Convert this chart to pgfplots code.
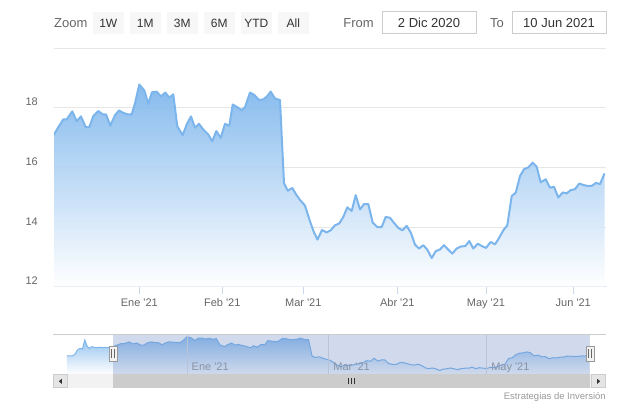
\documentclass[border=0pt]{standalone}
\usepackage{pgfplots}
\pgfplotsset{compat=1.18}
\usepackage{pgfplotstable}
\usepackage{fontspec}
\setmainfont{Liberation Sans}[Ligatures=TeXOff]

\definecolor{hcblue}{RGB}{124,181,236}
\definecolor{gridc}{HTML}{E6E6E6}
\definecolor{axisc}{HTML}{CCD6EB}
\definecolor{lab}{HTML}{666666}
\definecolor{txt}{HTML}{333333}
\definecolor{soft}{HTML}{999999}
\definecolor{maskc}{RGB}{102,133,194}
\definecolor{btn}{HTML}{F7F7F7}

% x = trading-day position (pixels of the 617 px chart), y = price
% points before x=54 only show up in the navigator
\pgfplotstableread{
x y
0.2 15.46
6.7 15.46
9.5 15.75
12.5 16.49
15.6 16.78
18.3 16.66
21.0 18.21
23.4 17.23
26.0 16.78
29.1 17.06
33.8 16.89
38.8 16.96
43.4 16.89
48.4 16.89
54.0 17.10
58.3 17.35
63.3 17.61
66.7 17.61
72.3 17.88
76.7 17.55
81.0 17.71
85.7 17.35
89.3 17.35
93.3 17.72
98.3 17.89
102.7 17.78
106.0 17.78
110.3 17.40
115.0 17.75
119.0 17.91
123.3 17.83
127.3 17.78
131.7 17.78
135.0 18.15
139.3 18.78
144.3 18.58
148.3 18.13
152.0 18.52
156.7 18.54
161.0 18.38
165.3 18.51
169.3 18.34
173.3 18.45
177.3 17.38
182.7 17.08
186.7 17.44
191.0 17.71
195.0 17.33
199.0 17.46
203.3 17.27
208.3 17.10
212.3 16.88
216.3 17.22
220.7 16.99
225.0 17.46
229.3 17.40
232.7 18.11
237.3 18.02
241.7 17.92
245.0 18.02
250.0 18.51
254.3 18.43
259.0 18.26
263.3 18.28
267.3 18.39
270.7 18.54
275.0 18.31
280.0 18.26
284.0 15.47
287.7 15.22
292.3 15.31
296.0 15.10
300.0 14.91
305.0 14.72
310.0 14.19
314.0 13.82
317.5 13.58
322.0 13.90
326.7 13.82
330.7 13.89
335.0 14.06
339.3 14.12
343.3 14.34
347.3 14.66
351.7 14.54
355.7 15.07
360.0 14.59
364.0 14.77
368.3 14.77
372.7 14.15
377.3 14.00
381.7 14.00
385.7 14.34
390.0 14.31
394.0 14.14
398.3 13.97
402.3 13.89
406.7 14.04
411.0 13.80
415.0 13.41
419.0 13.28
423.3 13.39
427.3 13.24
431.7 12.96
435.7 13.19
440.0 13.25
444.0 13.39
448.3 13.24
452.3 13.11
456.7 13.28
461.0 13.35
465.3 13.36
469.3 13.53
473.3 13.28
477.7 13.44
482.0 13.36
486.0 13.30
490.7 13.50
495.0 13.42
499.0 13.63
503.3 13.89
507.3 14.06
511.7 15.04
515.7 15.15
520.0 15.71
524.0 15.94
528.3 16.00
532.7 16.16
536.7 16.02
540.7 15.50
545.7 15.60
550.0 15.32
554.0 15.35
558.3 14.99
562.7 15.16
566.7 15.13
570.7 15.24
575.0 15.27
579.3 15.46
583.3 15.41
587.3 15.38
591.7 15.38
596.0 15.48
600.0 15.44
604.5 15.80
}\prices

\newcommand\fsz[1]{\fontsize{#1bp}{#1bp}\selectfont}

\begin{document}
\begin{tikzpicture}
\useasboundingbox (0,0) rectangle (617bp,410bp);

% ---- range selector bar ----
\begin{scope}[x=1bp,y=1bp]
  \node[anchor=mid west, inner sep=0pt, text=lab, font=\fsz{13}] at (54,385) {Zoom};
  \foreach \lx/\lt in {92.5/1W,129.5/1M,166.5/3M,203.5/6M,240.5/YTD,277.5/All}{
    \fill[btn] (\lx,376) rectangle ++(31.5,22);
    \node[inner sep=0pt, anchor=mid, text=txt, font=\fsz{12}] at (\lx+15.75,385) {\lt};
  }
  \node[anchor=mid east, inner sep=0pt, text=lab, font=\fsz{13}] at (374,385) {From};
  \draw[draw=black!20, fill=white, line width=1bp] (382,376) rectangle (476,398);
  \node[inner sep=0pt, anchor=mid, text=txt, font=\fsz{13}] at (429,385) {2 Dic 2020};
  \node[anchor=mid east, inner sep=0pt, text=lab, font=\fsz{13}] at (504,385) {To};
  \draw[draw=black!20, fill=white, line width=1bp] (512,376) rectangle (606,398);
  \node[inner sep=0pt, anchor=mid, text=txt, font=\fsz{13}] at (559,385) {10 Jun 2021};
\end{scope}

% ---- main chart ----
\begin{axis}[
  at={(54bp,123.3bp)}, anchor=south west,
  scale only axis, width=552bp, height=238.6bp,
  xmin=54, xmax=606, ymin=12, ymax=20,
  axis x line*=bottom, axis y line*=left,
  x axis line style={draw=axisc, line width=1bp},
  y axis line style={draw=none},
  xtick={139.3,222.3,303.3,397.3,486,573.3},
  xticklabels={Ene '21,Feb '21,Mar '21,Abr '21,May '21,Jun '21},
  xtick align=outside, major tick length=7.5bp,
  xtick style={draw=axisc, line width=1bp},
  ytick={12,14,16,18,20},
  yticklabels={12,14,16,18,},
  ytick style={draw=none},
  ymajorgrids, major grid style={draw=gridc, line width=1bp},
  xticklabel style={font=\fsz{11}, text=lab, anchor=north, inner sep=0pt, yshift=-4.6bp},
  yticklabel style={font=\fsz{11}, text=lab, anchor=east, inner sep=0pt, xshift=-16bp, yshift=5.7bp},
]
  \addplot[draw=none, top color=hcblue, bottom color=white, fill opacity=0.92]
    table {\prices} -- (axis cs:604.5,12) -- (axis cs:0.2,12) -- cycle;
  \addplot[draw=hcblue, line width=2bp, line join=round, no markers] table {\prices};
\end{axis}

% ---- navigator ----
\begin{axis}[
  at={(53.5bp,35.7bp)}, anchor=south west,
  scale only axis, width=552bp, height=40bp,
  xmin=-15.2, xmax=623.6, ymin=12.3, ymax=19.2,
  axis on top,
  axis line style={draw=none},
  ytick=\empty,
  xtick={139.3,303.3,486},
  xticklabels={Ene '21,Mar '21,May '21},
  tick style={draw=none},
  xmajorgrids, major grid style={draw=black!12, line width=1bp},
  xticklabel style={font=\fsz{11}, text=soft, anchor=base west, inner sep=0pt, xshift=4.5bp, yshift=3.6bp},
]
  \addplot[draw=none, top color=hcblue, bottom color=white, fill opacity=0.85]
    table {\prices} -- (axis cs:604.5,12.3) -- (axis cs:0.2,12.3) -- cycle;
  \addplot[draw=hcblue, line width=1bp, no markers] table {\prices};
\end{axis}

\begin{scope}[x=1bp,y=1bp]
  % selection mask and outline
  \fill[maskc, opacity=0.3] (113.3,35.7) rectangle (590.3,75.7);
  \draw[black!20, line width=1bp] (53,75.7) -- (606,75.7);
  % scrollbar
  \fill[black!5] (53,21.7) rectangle (606,35.7);
  \fill[black!20] (113.3,21.7) rectangle (590.3,35.7);
  \draw[black!20, fill=black!10, line width=0.8bp] (53.4,22.1) rectangle (67.7,35.3);
  \draw[black!20, fill=black!10, line width=0.8bp] (591,22.1) rectangle (605.6,35.3);
  \fill[txt] (58.8,28.7) -- (61.8,31.2) -- (61.8,26.2) -- cycle;
  \fill[txt] (600.2,28.7) -- (597.2,31.2) -- (597.2,26.2) -- cycle;
  \foreach \rx in {348.8,351.8,354.8}
    \draw[txt, line width=0.9bp] (\rx,25.7) -- (\rx,31.7);
  % handles
  \foreach \hx in {113.3,590.3}{
    \draw[black!40, fill=black!5, line width=0.9bp] (\hx-4,48.3) rectangle (\hx+4,64);
    \draw[black!60, line width=0.8bp] (\hx-1.5,51.5) -- (\hx-1.5,60.8);
    \draw[black!60, line width=0.8bp] (\hx+1.5,51.5) -- (\hx+1.5,60.8);
  }
  % credits
  \node[anchor=mid east, inner sep=0pt, text=soft, font=\fsz{9.5}] at (606,13) {Estrategias de Inversión};
\end{scope}
\end{tikzpicture}
\end{document}
